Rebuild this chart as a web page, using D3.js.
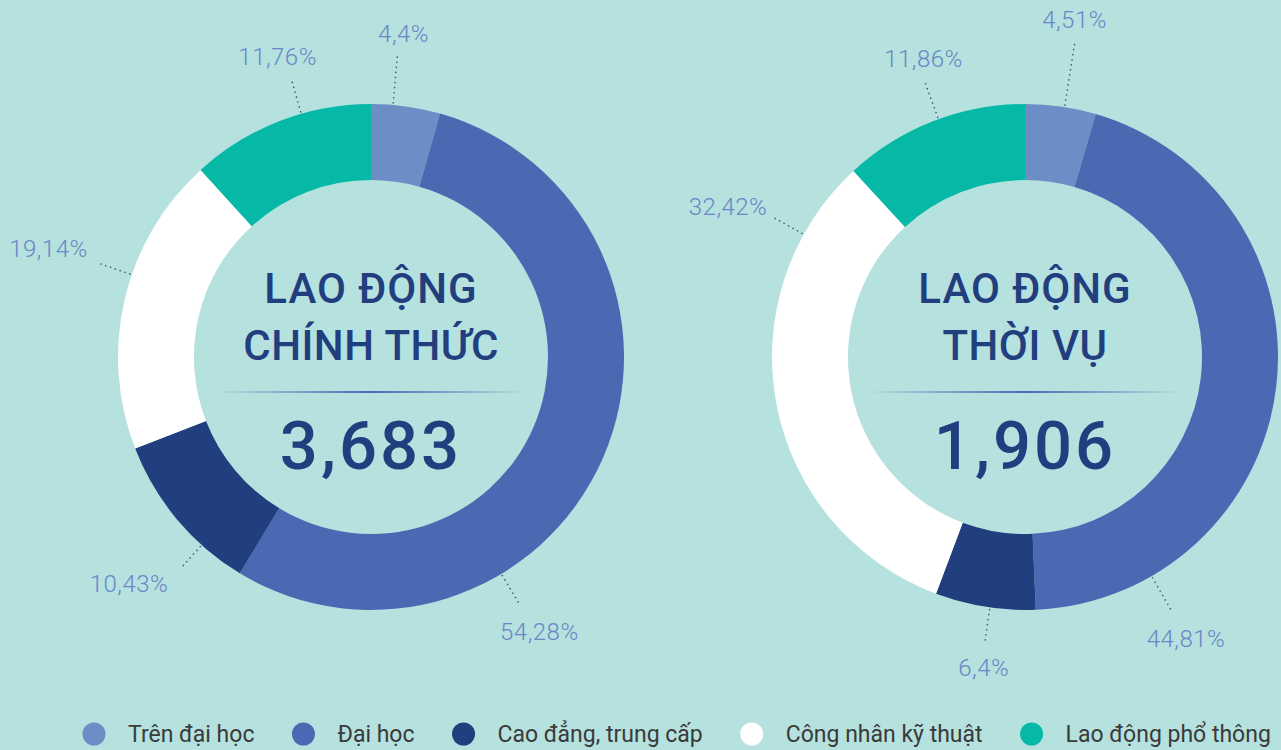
<!DOCTYPE html>
<html>
<head>
<meta charset="utf-8">
<script src="https://cdn.jsdelivr.net/npm/d3@7"></script>
<style>
  body { margin: 0; background: #b5e1de; }
</style>
</head>
<body>
<div id="chart"></div>
<script>
var w = 1281;
var h = 750;

// data
var categories = ["Trên đại học", "Đại học", "Cao đẳng, trung cấp", "Công nhân kỹ thuật", "Lao động phổ thông"];
var chinhThuc = [4.4, 54.28, 10.43, 19.14, 11.76];
var thoiVu = [4.51, 44.81, 6.4, 32.42, 11.86];
var chinhThucLabels = ["4,4%", "54,28%", "10,43%", "19,14%", "11,76%"];
var thoiVuLabels = ["4,51%", "44,81%", "6,4%", "32,42%", "11,86%"];
var titles = [["LAO ĐỘNG", "CHÍNH THỨC"], ["LAO ĐỘNG", "THỜI VỤ"]];
var totals = ["3,683", "1,906"];

// label layout: leader angle (deg from 12 o'clock), leader length, label offset from leader end
var leaderAngles = [[5, 149, 222, 289, 344], [9, 150, 188, 299, 340]];
var leaderLens = [[50, 35, 30, 34, 33], [62, 39, 34, 35, 39]];
var labelOffsets = [
    [[6, -19, "middle"], [19, 26, "middle"], [-12, 15, "end"], [-10, -14, "end"], [-14, -23, "middle"]],
    [[0, -24, "middle"], [14, 27, "middle"], [-1, 25, "middle"], [-4, -9, "end"], [-1, -22, "middle"]]
];

var colors = ["#6b8ec6", "#4b69b3", "#213e7e", "#ffffff", "#06b9a7"];
var color = d3.scaleOrdinal().domain(categories).range(colors);

var svg = d3.select("#chart")
    .append("svg")
    .attr("width", w)
    .attr("height", h);

svg.append("rect").attr("width", w).attr("height", h).attr("fill", "#b5e1de");

var grad = svg.append("defs").append("linearGradient")
    .attr("id", "divider")
    .attr("x1", "0%").attr("x2", "100%");
grad.append("stop").attr("offset", "0%").attr("stop-color", "#4b69b3").attr("stop-opacity", 0);
grad.append("stop").attr("offset", "50%").attr("stop-color", "#4b69b3").attr("stop-opacity", 1);
grad.append("stop").attr("offset", "100%").attr("stop-color", "#4b69b3").attr("stop-opacity", 0);

var outerR = 253;
var innerR = 177;

var pie = d3.pie().sort(null).value(function(d) { return d.value; });
var arc = d3.arc().innerRadius(innerR).outerRadius(outerR);

var charts = [
    { cx: 371, cy: 357, values: chinhThuc, labels: chinhThucLabels },
    { cx: 1025, cy: 357, values: thoiVu, labels: thoiVuLabels }
];

charts.forEach(function(c, ci) {
    var data = c.values.map(function(v, i) {
        return { cat: categories[i], value: v, label: c.labels[i],
                 ang: leaderAngles[ci][i], len: leaderLens[ci][i], off: labelOffsets[ci][i] };
    });

    var g = svg.append("g").attr("transform", "translate(" + c.cx + "," + c.cy + ")");

    g.selectAll("path")
        .data(pie(data))
        .enter()
        .append("path")
        .attr("d", arc)
        .style("fill", function(d) { return color(d.data.cat); });

    // leaders + labels
    data.forEach(function(d) {
        var a = d.ang * Math.PI / 180;
        var r0 = outerR + 2, r1 = outerR + 2 + d.len;
        var x0 = Math.sin(a) * r0, y0 = -Math.cos(a) * r0;
        var x1 = Math.sin(a) * r1, y1 = -Math.cos(a) * r1;
        g.append("line")
            .attr("x1", x0).attr("y1", y0)
            .attr("x2", x1).attr("y2", y1)
            .style("stroke", "#3d5585")
            .style("stroke-width", 1.6)
            .style("stroke-linecap", "round")
            .style("stroke-dasharray", "0.1,5");

        g.append("text")
            .attr("x", x1 + d.off[0])
            .attr("y", y1 + d.off[1])
            .attr("text-anchor", d.off[2])
            .attr("dominant-baseline", "central")
            .style("font-family", "Roboto, sans-serif")
            .style("font-weight", 300)
            .style("font-size", "24px")
            .style("letter-spacing", "0.5px")
            .style("fill", "#6a86c6")
            .text(d.label);
    });

    // center text
    var tt = g.append("g")
        .style("font-family", "Roboto, sans-serif")
        .style("fill", "#213e7e")
        .attr("text-anchor", "middle");
    tt.append("text")
        .attr("y", -54)
        .style("font-size", "42px")
        .style("font-weight", 500)
        .style("letter-spacing", "1px")
        .text(titles[ci][0]);
    tt.append("text")
        .attr("y", 3)
        .style("font-size", "42px")
        .style("font-weight", 500)
        .style("letter-spacing", "0.5px")
        .text(titles[ci][1]);
    g.append("rect")
        .attr("x", -156).attr("y", 34)
        .attr("width", 312).attr("height", 2)
        .attr("fill", "url(#divider)");
    tt.append("text")
        .attr("y", 112)
        .style("font-size", "67px")
        .style("font-weight", 500)
        .style("letter-spacing", "3px")
        .text(totals[ci]);
});

// legend
var legend = svg.append("g").attr("transform", "translate(0,734)");
var lx = 94;
categories.forEach(function(cat) {
    legend.append("circle")
        .attr("cx", lx).attr("cy", 0).attr("r", 11.5)
        .style("fill", color(cat));
    var t = legend.append("text")
        .attr("x", lx + 34)
        .attr("y", 0)
        .attr("dominant-baseline", "central")
        .style("font-family", "Roboto, sans-serif")
        .style("font-size", "23px")
        .style("fill", "#3a3a3a")
        .text(cat);
    lx += 34 + t.node().getComputedTextLength() + 49;
});
</script>
</body>
</html>
